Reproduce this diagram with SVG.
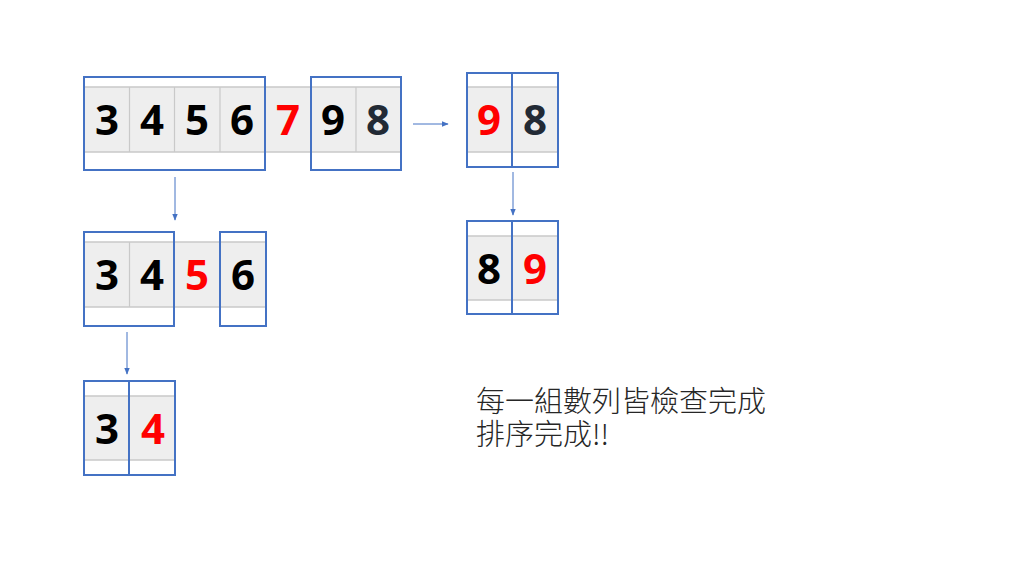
<svg xmlns="http://www.w3.org/2000/svg" width="1024" height="576" viewBox="0 0 1024 576">
<defs>
<style>
.strip{fill:#eeeeee;stroke:none}
.hl{stroke:#c9c9c9;stroke-width:1.5;fill:none}
.div{stroke:#c9c9c9;stroke-width:1.2}
.box{fill:none;stroke:#4472c4;stroke-width:2}
.d{font-family:"Open Sans","DejaVu Sans",sans-serif;font-weight:bold;font-size:42px;text-anchor:middle}
.k{fill:#000000}
.n{fill:#222a35}
.r{fill:#ff0000}
.conn{stroke:#4472c4;stroke-width:1;fill:none;marker-end:url(#ah)}
.t{font-family:"Noto Sans CJK TC","Noto Sans CJK SC",sans-serif;font-size:29px;font-weight:300;fill:#262626}
</style>
<marker id="ah" viewBox="0 0 10 10" refX="9" refY="5" markerWidth="7" markerHeight="7" markerUnits="userSpaceOnUse" orient="auto">
<path d="M0,1 L10,5 L0,9 z" fill="#4472c4"/>
</marker>
</defs>
<rect width="1024" height="576" fill="#ffffff"/>

<g id="row1">
<rect class="strip" x="85" y="87" width="316" height="65"/>
<line class="hl" x1="85" y1="87" x2="401" y2="87"/>
<line class="hl" x1="85" y1="152" x2="401" y2="152"/>
<line class="div" x1="129.5" y1="87" x2="129.5" y2="152"/>
<line class="div" x1="174.5" y1="87" x2="174.5" y2="152"/>
<line class="div" x1="220" y1="87" x2="220" y2="152"/>
<line class="div" x1="356" y1="87" x2="356" y2="152"/>
<text class="d k" x="107" y="135">3</text>
<text class="d k" x="152" y="135">4</text>
<text class="d k" x="197" y="135">5</text>
<text class="d k" x="242" y="135">6</text>
<text class="d r" x="288" y="135">7</text>
<text class="d k" x="333" y="135">9</text>
<text class="d n" x="378" y="135">8</text>
<rect class="box" x="84" y="77" width="181" height="93"/>
<rect class="box" x="311" y="77" width="90" height="93"/>
</g>

<g id="row2">
<rect class="strip" x="85" y="242" width="181" height="65"/>
<line class="hl" x1="85" y1="242" x2="266" y2="242"/>
<line class="hl" x1="85" y1="307" x2="266" y2="307"/>
<line class="div" x1="129.5" y1="242" x2="129.5" y2="307"/>
<text class="d k" x="107" y="290">3</text>
<text class="d k" x="152" y="290">4</text>
<text class="d r" x="197" y="290">5</text>
<text class="d k" x="243" y="290">6</text>
<rect class="box" x="84" y="232" width="90" height="94"/>
<rect class="box" x="220" y="232" width="46" height="94"/>
</g>

<g id="row3">
<rect class="strip" x="85" y="396" width="90" height="64"/>
<line class="hl" x1="85" y1="396" x2="175" y2="396"/>
<line class="hl" x1="85" y1="460" x2="175" y2="460"/>
<text class="d k" x="107" y="444">3</text>
<text class="d r" x="153" y="444">4</text>
<rect class="box" x="84" y="381" width="45" height="94"/>
<rect class="box" x="129" y="381" width="46" height="94"/>
</g>

<g id="pair98">
<rect class="strip" x="467" y="87" width="91" height="65"/>
<line class="hl" x1="467" y1="87" x2="558" y2="87"/>
<line class="hl" x1="467" y1="152" x2="558" y2="152"/>
<text class="d r" x="489" y="135">9</text>
<text class="d n" x="535" y="135">8</text>
<rect class="box" x="467" y="73" width="45" height="94"/>
<rect class="box" x="512" y="73" width="46" height="94"/>
</g>

<g id="pair89">
<rect class="strip" x="467" y="236" width="91" height="64"/>
<line class="hl" x1="467" y1="236" x2="558" y2="236"/>
<line class="hl" x1="467" y1="300" x2="558" y2="300"/>
<text class="d k" x="489" y="284">8</text>
<text class="d r" x="535" y="284">9</text>
<rect class="box" x="467" y="221" width="45" height="93"/>
<rect class="box" x="512" y="221" width="46" height="93"/>
</g>

<g id="connectors">
<line class="conn" x1="413" y1="124" x2="448" y2="124"/>
<line class="conn" x1="175" y1="177" x2="175" y2="220"/>
<line class="conn" x1="513" y1="172" x2="513" y2="215"/>
<line class="conn" x1="127" y1="332" x2="127" y2="374"/>
</g>

<g id="caption">
<text class="t" x="476" y="412">每一組數列皆檢查完成</text>
<text class="t" x="476" y="445">排序完成!!</text>
</g>
</svg>
